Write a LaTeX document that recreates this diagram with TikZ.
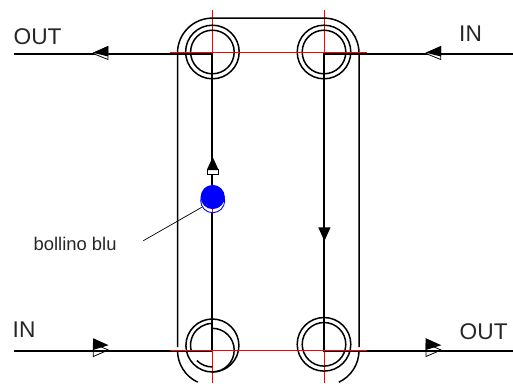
\documentclass[tikz,border=0pt]{standalone}
\usepackage{fontspec}
\setmainfont{Liberation Sans}
\tikzset{
  x=1bp,y=-1bp,
  pipe/.style={black,line width=2bp},
  shell/.style={black,line width=1.5bp},
  ring/.style={black,line width=1.5bp},
  axis/.style={red,line width=0.9bp},
  lab/.style={inner sep=0pt,anchor=base west,text=black!85,font=\fontsize{22.7bp}{24bp}\selectfont},
  smalllab/.style={inner sep=0pt,anchor=base west,text=black!85,font=\fontsize{18.4bp}{20bp}\selectfont},
  outlinehead/.style={draw=black,fill=white,line width=0.8bp},
  solidhead/.style={fill=black},
}
\begin{document}
\begin{tikzpicture}
\useasboundingbox (0,0) rectangle (513,383);
\clip (0,0) rectangle (513,383);
% red axes (under)
\draw[axis] (212.4,10) -- (212.4,383);
\draw[axis] (324,10) -- (324,383);
% shell
\draw[shell] (177.5,347) -- (177.5,53) arc[start angle=180,end angle=270,radius=34.9] -- (324,18.1) arc[start angle=270,end angle=360,radius=35] -- (359,347);
\draw[shell] (177.5,350.5) arc[start angle=180,end angle=115,radius=34.9];
\draw[shell] (359,350.5) arc[start angle=0,end angle=65,radius=35];
% rings
\foreach \c in {(212.4,52),(324,52)}{
  \draw[ring] \c circle[radius=26.8];
  \draw[ring] \c circle[radius=21.8];
}
\draw[ring] (324,344.3) circle[radius=26.8];
\draw[ring] (324,344.3) circle[radius=21.8];
\draw[ring] (212.4,345.5) circle[radius=26.5];
\draw[ring] (212.4,323.4) arc[start angle=270,end angle=165,radius=21.9];
\draw[ring] (196.8,360.5) arc[start angle=135,end angle=90,radius=21.9];
\draw[ring] (212.4,328.3) arc[start angle=270,end angle=450,radius=21.8];
% pipes
\draw[pipe] (14,54.3) -- (212.4,54.3) -- (212.4,188);
\draw[pipe] (212.4,212.7) -- (212.4,350.7);
\draw[pipe] (14,350.7) -- (212.4,350.7);
\draw[pipe] (513,54.3) -- (324,54.3) -- (324,350.7) -- (513,350.7);
% red horizontals (over)
\draw[axis,line width=1bp] (170,52) -- (367,52);
\draw[axis,line width=1.1bp] (170,350.7) -- (367,350.7);
% arrowheads
\draw[outlinehead] (93,53.5) -- (108,46.5) -- (108,59.5) -- cycle;
\fill[solidhead] (92.7,52.7) -- (108.2,46) -- (108.2,56.5) -- cycle;
\draw[outlinehead] (425.8,53.5) -- (440.8,46.5) -- (440.8,59.5) -- cycle;
\fill[solidhead] (425.5,52.7) -- (441,46) -- (441,56.5) -- cycle;
\draw[outlinehead] (108.3,350) -- (93.3,343.5) -- (93.3,356.5) -- cycle;
\fill[solidhead] (108.6,345.2) -- (93,338.2) -- (93,350) -- cycle;
\draw[pipe] (90,350.7) -- (112,350.7);
\draw[outlinehead] (441,350) -- (426,343.5) -- (426,356.5) -- cycle;
\fill[solidhead] (441.3,345.2) -- (425.7,338.2) -- (425.7,350) -- cycle;
\draw[pipe] (422,350.7) -- (445,350.7);
\draw[outlinehead] (207.2,174) rectangle (218.6,169);
\fill[solidhead] (212.7,157) -- (206.8,170) -- (218.6,170) -- cycle;
\fill[solidhead] (318.2,227.3) -- (330.6,227.3) -- (324.4,241) -- cycle;
% blue dot
\draw[blue,line width=0.9bp] (212.7,200.7) circle[radius=12];
\fill[blue] (212.7,197) circle[radius=12.1];
% leader
\coordinate (leadA) at (143.3,240.7);
\coordinate (leadB) at (201.7,207.3);
\draw[black,line width=0.7bp] (leadA) -- (leadB);
% labels
\node[lab] (outtop) at (13.5,44) {OUT};
\node[lab] (intop) at (459,41) {IN};
\node[lab] (inbot) at (12.5,337) {IN};
\node[lab] (outbot) at (459.5,339.3) {OUT};
\node[smalllab] (bollino) at (33.5,250) {bollino blu};
\end{tikzpicture}
\end{document}
